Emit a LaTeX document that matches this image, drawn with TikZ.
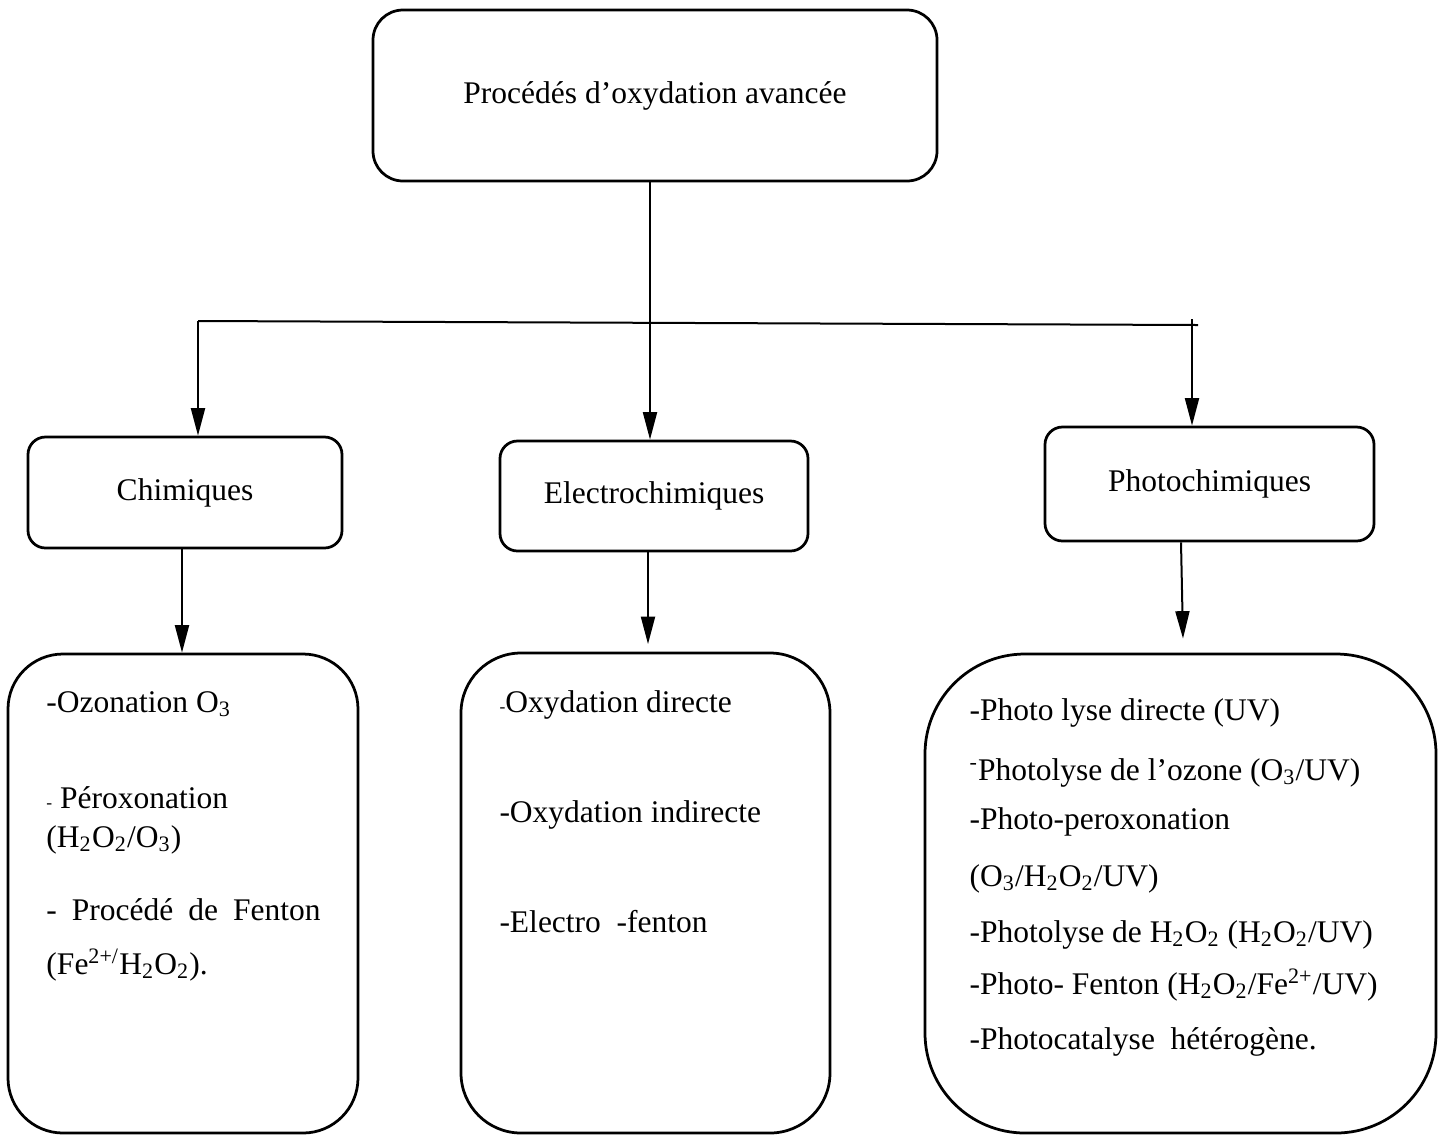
\documentclass[tikz,border=0pt]{standalone}
\usepackage{fontspec}
\setmainfont{Liberation Serif}
\usetikzlibrary{arrows.meta}
\begin{document}
\begin{tikzpicture}[x=0.4pt,y=-0.4pt]
    \tikzstyle{every node}+=[font=\fontsize{12.6}{14}\selectfont]
    \tikzstyle{box}=[draw=black,line width=1.1pt,rounded corners=7pt,align=center,inner sep=0pt]
    \tikzstyle{item}=[anchor=base west,inner sep=0pt]
    \tikzstyle{arr}=[black,line width=0.8pt,-{Triangle[length=11pt,width=5.6pt]}]
    \useasboundingbox (0,0) rectangle (1446,1135);
    \node [box,rounded corners=12pt,minimum width=225.6pt,minimum height=68.4pt] (poa) at (655,95.5) {Procédés d’oxydation avancée};
    \node [box,minimum width=125.6pt,minimum height=44.4pt] (chim) at (185,492.5) {\raisebox{2.6pt}{Chimiques}};
    \node [box,minimum width=123.2pt,minimum height=44pt] (elec) at (654,496) {\raisebox{2pt}{Electrochimiques}};
    \node [box,minimum width=131.6pt,minimum height=45.6pt] (photo) at (1209.5,484) {\raisebox{3pt}{Photochimiques}};
    \node [box,rounded corners=22pt,minimum width=140pt,minimum height=191.6pt] (lst1) at (183,893.5) {};
    \node [box,rounded corners=24pt,minimum width=147.6pt,minimum height=192pt] (lst2) at (645.5,893) {};
    \node [box,rounded corners=40pt,minimum width=204.4pt,minimum height=191.6pt] (lst3) at (1180.5,893.5) {};
    \node [item] (ozo) at (46,712) {-Ozonation O\textsubscript{3}};
    \node [item] (per) at (46,808) {{\scriptsize -} Péroxonation};
    \node [item] (perf) at (46,847) {(H\textsubscript{2}O\textsubscript{2}/O\textsubscript{3})};
    \node [item] (fen) at (46,920) {\makebox[109.6pt][s]{- Procédé de Fenton}};
    \node [item] (fenf) at (46,974) {(Fe\textsuperscript{2+/}H\textsubscript{2}O\textsubscript{2}).};
    \node [item] (odir) at (499,712) {{\scriptsize -}Oxydation directe};
    \node [item] (oind) at (499,822) {-Oxydation indirecte};
    \node [item] (efen) at (499,932) {-Electro~ -fenton};
    \node [item] (plyse) at (969,720) {-Photo lyse directe (UV)};
    \node [item] (pozo) at (969,780) {\textsuperscript{-}Photolyse de l’ozone (O\textsubscript{3}/UV)};
    \node [item] (pper) at (969,829) {-Photo-peroxonation};
    \node [item] (pperf) at (969,886) {(O\textsubscript{3}/H\textsubscript{2}O\textsubscript{2}/UV)};
    \node [item] (phyd) at (969,942) {-Photolyse de H\textsubscript{2}O\textsubscript{2} (H\textsubscript{2}O\textsubscript{2}/UV)};
    \node [item] (pfen) at (969,994) {-Photo- Fenton (H\textsubscript{2}O\textsubscript{2}/Fe\textsuperscript{2+}/UV)};
    \node [item] (pcat) at (969,1049) {-Photocatalyse~ hétérogène.};
    \coordinate (jl) at (198,321);
    \coordinate (jr) at (1192,325);
    \coordinate (je) at (1198,325);
    \draw [black,line width=0.8pt] (jl) -- (je);
    \draw [arr] ([xshift=-2pt]poa.south) -- ([xshift=-2pt]poa.south |- elec.north);
    \draw [arr] (jl) -- (jl |- chim.north);
    \draw [arr] ([yshift=2.4pt]jr) -- (jr |- photo.north);
    \draw [arr] ([xshift=-1.2pt]chim.south) -- ([xshift=-1.2pt]chim.south |- lst1.north);
    \draw [arr,shorten >=3pt] ([xshift=-2.4pt]elec.south) -- ([xshift=-2.4pt]elec.south |- lst2.north);
    \draw [arr] ([xshift=-11.4pt]photo.south) -- ([xshift=1pt,yshift=5.6pt]lst3.north);
\end{tikzpicture}
\end{document}
